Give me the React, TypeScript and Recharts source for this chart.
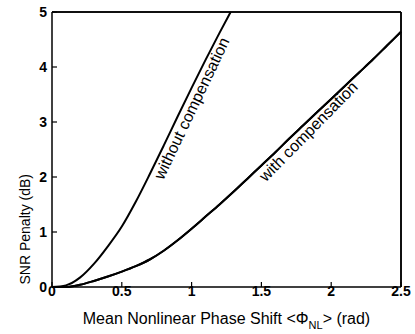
import { LineChart, Line, XAxis, YAxis, ReferenceLine } from "recharts";

// mean nonlinear phase shift (rad) and SNR penalty (dB)
const withoutShift = [0, 0.1, 0.2, 0.3, 0.4, 0.5, 0.6, 0.7, 0.8, 0.9, 1.0, 1.1, 1.2, 1.28];
const withoutPenalty = [0, 0.03, 0.17, 0.42, 0.74, 1.1, 1.55, 2.05, 2.57, 3.1, 3.62, 4.13, 4.62, 5.0];

const withShift = [0, 0.1, 0.2, 0.3, 0.4, 0.5, 0.6, 0.7, 0.8, 0.9, 1.0, 1.1, 1.2, 1.3, 1.4, 1.5, 1.6, 1.7, 1.8, 1.9, 2.0, 2.1, 2.2, 2.3, 2.4, 2.5];
const withPenalty = [0, 0.0, 0.04, 0.11, 0.19, 0.28, 0.38, 0.5, 0.66, 0.85, 1.06, 1.28, 1.5, 1.73, 1.97, 2.21, 2.45, 2.7, 2.94, 3.18, 3.42, 3.66, 3.9, 4.14, 4.39, 4.64];

const xTicks = [0, 0.5, 1, 1.5, 2, 2.5];
const yTicks = [0, 1, 2, 3, 4, 5];

const withoutData = withoutShift.map((x, i) => ({ x, y: withoutPenalty[i] }));
const withData = withShift.map((x, i) => ({ x, y: withPenalty[i] }));

const xMax = 2.5;
const yMax = 5;

const font = "'Liberation Sans', Arial, Helvetica, sans-serif";

// text laid along a curve, anchored at one of its points
function CurveTag(props: any) {
  const { viewBox, x, y, index, value, at, atValue, caption, tilt, along, across } = props;
  const hit = index === at || (index == null && value === atValue);
  if (!hit) return null;
  const px = viewBox ? viewBox.x + (viewBox.width || 0) / 2 : x;
  const py = viewBox ? viewBox.y + (viewBox.height || 0) / 2 : y;
  return (
    <g transform={`rotate(${-tilt} ${px} ${py})`}>
      <text
        x={px + along}
        y={py + across}
        textAnchor="middle"
        dominantBaseline="central"
        fontFamily={font}
        fontSize={16}
        fill="#000"
      >
        {caption}
      </text>
    </g>
  );
}

function XTick(props: any) {
  const { x, y, payload } = props;
  return (
    <text x={x} y={y + 12} textAnchor="middle" fontFamily={font} fontSize={14} fontWeight="bold" fill="#000">
      {payload.value}
    </text>
  );
}

function YTick(props: any) {
  const { x, y, payload } = props;
  return (
    <text x={x - 8} y={y + 5} textAnchor="end" fontFamily={font} fontSize={14} fontWeight="bold" fill="#000">
      {payload.value}
    </text>
  );
}

function XTitle(props: any) {
  const { viewBox } = props;
  const cx = viewBox.x + viewBox.width / 2;
  return (
    <text x={cx} y={viewBox.y + 37} textAnchor="middle" fontFamily={font} fontSize={16} fill="#000">
      Mean Nonlinear Phase Shift &lt;Φ
      <tspan fontSize={11} dy={5}>NL</tspan>
      <tspan dy={-5}>&gt; (rad)</tspan>
    </text>
  );
}

function YTitle(props: any) {
  const { viewBox } = props;
  // the original title sits low, not centred on the axis
  const cy = viewBox.y + viewBox.height * 0.79;
  const cx = 25;
  return (
    <text
      x={cx}
      y={cy}
      transform={`rotate(-90 ${cx} ${cy})`}
      textAnchor="middle"
      dominantBaseline="central"
      fontFamily={font}
      fontSize={14}
      fill="#000"
    >
      SNR Penalty (dB)
    </text>
  );
}

export default function App() {
  return (
    <div style={{ position: "absolute", left: 0, top: 0, width: 415, height: 334, background: "#fff" }}>
      <LineChart width={415} height={334} margin={{ top: 12, right: 14, left: 0, bottom: 7 }}>
        <XAxis
          dataKey="x"
          type="number"
          domain={[0, xMax]}
          ticks={xTicks}
          height={40}
          tickSize={-5}
          tick={<XTick />}
          tickLine={{ stroke: "#000", strokeWidth: 1.2 }}
          axisLine={{ stroke: "#000", strokeWidth: 1.5 }}
          label={<XTitle />}
        />
        <YAxis
          type="number"
          domain={[0, yMax]}
          ticks={yTicks}
          width={52}
          tickSize={-5}
          tick={<YTick />}
          tickLine={{ stroke: "#000", strokeWidth: 1.2 }}
          axisLine={{ stroke: "#000", strokeWidth: 1.5 }}
          label={<YTitle />}
        />
        <XAxis
          xAxisId="top"
          orientation="top"
          mirror
          dataKey="x"
          type="number"
          domain={[0, xMax]}
          ticks={xTicks}
          tickSize={5}
          tick={false}
          tickLine={{ stroke: "#000", strokeWidth: 1.2 }}
          axisLine={{ stroke: "#000", strokeWidth: 1.5 }}
        />
        <YAxis
          yAxisId="right"
          orientation="right"
          mirror
          type="number"
          domain={[0, yMax]}
          ticks={yTicks}
          tickSize={5}
          tick={false}
          tickLine={{ stroke: "#000", strokeWidth: 1.2 }}
          axisLine={{ stroke: "#000", strokeWidth: 1.5 }}
        />
        <ReferenceLine y={yMax} stroke="#000" strokeWidth={1.5} />
        <ReferenceLine x={xMax} stroke="#000" strokeWidth={1.5} />

        <Line
          data={withoutData}
          dataKey="y"
          type="monotone"
          stroke="#000"
          strokeWidth={2}
          dot={false}
          isAnimationActive={false}
          label={
            <CurveTag at={10} atValue={3.62} caption="without compensation" tilt={64.5} along={-18.4} across={8.8} />
          }
        />
        <Line
          data={withData}
          dataKey="y"
          type="monotone"
          stroke="#000"
          strokeWidth={2}
          dot={false}
          isAnimationActive={false}
          label={<CurveTag at={18} atValue={2.94} caption="with compensation" tilt={45.5} along={-0.8} across={7.8} />}
        />
        <Line
          xAxisId="top"
          yAxisId="right"
          data={withData}
          dataKey="y"
          type="monotone"
          stroke="#000"
          strokeWidth={2}
          dot={false}
          isAnimationActive={false}
        />
      </LineChart>
    </div>
  );
}
